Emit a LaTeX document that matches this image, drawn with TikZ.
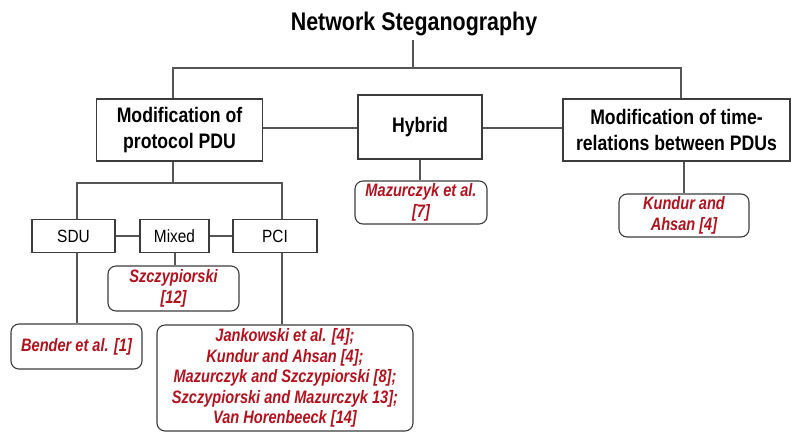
\documentclass[tikz,border=0pt]{standalone}
\usepackage{fontspec}
\setmainfont{Liberation Sans}[FakeStretch=0.87]
\newfontfamily\topfam{Liberation Sans}[FakeStretch=0.84]
\newfontfamily\redfam{Liberation Sans}[FakeStretch=0.81]
\definecolor{refred}{RGB}{178,18,30}
\definecolor{boxline}{RGB}{60,60,60}
\definecolor{conline}{RGB}{85,85,85}
\tikzset{
  topbox/.style={draw=boxline, line width=1.1pt, align=center, inner sep=0pt,
    font=\topfam\fontsize{21}{26}\selectfont\bfseries},
  midbox/.style={draw=boxline, line width=1.1pt, align=center, inner sep=0pt,
    font=\fontsize{17.7}{21}\selectfont},
  refbox/.style={draw=boxline, line width=1.1pt, rounded corners=8pt, align=center, inner sep=0pt,
    text=refred, font=\redfam\fontsize{18}{20.5}\selectfont\bfseries\itshape},
  conn/.style={draw=conline, line width=1.2pt}
}
\begin{document}
\begin{tikzpicture}[x=1pt,y=-1pt]
\useasboundingbox (0,0) rectangle (791,432);
\node[font=\topfam\fontsize{25.5}{28}\selectfont\bfseries, inner sep=0pt] (title) at (414,24) {Network Steganography};

\node[topbox, minimum width=166pt, minimum height=62pt] (mod) at (179.5,130) {Modification of\\protocol PDU};
\node[topbox, minimum width=124pt, minimum height=64pt] (hyb) at (420,127) {Hybrid};
\node[topbox, minimum width=227pt, minimum height=62pt] (time) at (676.5,130) {Modification of time-\\relations between PDUs};

\node[refbox, minimum width=132pt, minimum height=43pt] (maz) at (421,202.5) {Mazurczyk et al.\\{[7]}};
\node[refbox, minimum width=130pt, minimum height=43pt] (kun) at (684,215.5) {Kundur and\\Ahsan [4]};

\node[midbox, minimum width=83pt, minimum height=33pt] (sdu) at (73.5,236) {SDU};
\node[midbox, minimum width=69pt, minimum height=33pt] (mix) at (174.5,236) {Mixed};
\node[midbox, minimum width=84pt, minimum height=33pt] (pci) at (275,236) {PCI};

\node[refbox, minimum width=131pt, minimum height=45pt] (szc) at (173.5,288.5) {Szczypiorski\\{[12]}};
\node[refbox, minimum width=131pt, minimum height=45pt] (ben) at (76.5,346.5) {Bender et al. [1]};
\node[refbox, minimum width=256pt, minimum height=106pt] (big) at (285,378) {Jankowski et al. [4];\\Kundur and Ahsan [4];\\Mazurczyk and Szczypiorski [8];\\Szczypiorski and Mazurczyk 13];\\Van Horenbeeck [14]};

% junction coordinates
\coordinate (jt) at (413,68);
\coordinate (jl) at (173,68);
\coordinate (jr) at (681,68);
\coordinate (jm) at (173,183);
\coordinate (js) at (77,183);
\coordinate (jp) at (282,183);
\coordinate (hy) at (0,128);

\draw[conn] (jt |- 0,40) -- (jt);
\draw[conn] (jl |- mod.north) -- (jl) -- (jr) -- (jr |- time.north);
\draw[conn] (mod.east |- hy) -- (hyb.west |- hy);
\draw[conn] (hyb.east |- hy) -- (time.west |- hy);
\draw[conn] (hyb.south) -- (maz.north -| hyb.south);
\draw[conn] (time.south -| 684,0) -- (kun.north);
\draw[conn] (jm |- mod.south) -- (jm);
\draw[conn] (js |- sdu.north) -- (js) -- (jp) -- (jp |- pci.north);
\draw[conn] (sdu.east) -- (mix.west);
\draw[conn] (mix.east) -- (pci.west);
\draw[conn] (mix.south -| 175,0) -- (szc.north -| 175,0);
\draw[conn] (js |- sdu.south) -- (js |- ben.north);
\draw[conn] (jp |- pci.south) -- (jp |- big.north);
\end{tikzpicture}
\end{document}
